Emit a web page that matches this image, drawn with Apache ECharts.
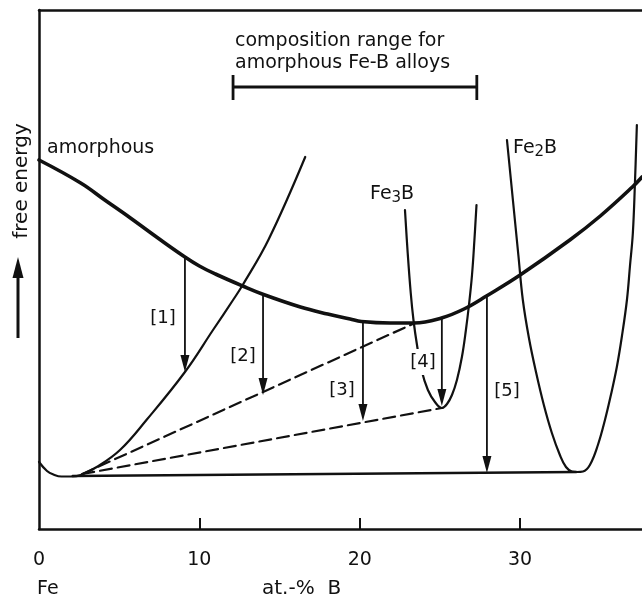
<!DOCTYPE html>
<html><head><meta charset="utf-8">
<script src="https://cdn.jsdelivr.net/npm/echarts@6/dist/echarts.min.js"></script>
<style>html,body{margin:0;padding:0;background:#fff}#c{width:642px;height:602px}</style>
</head><body><div id="c"></div>
<script>
// ---- data (x: at.-% B, y: free energy, arbitrary units) ----
const xTickLabels = [0, 10, 20, 30];
const xTickMarks = [10, 20, 30];

const amorphousX = [0, 2.6, 4.1, 5.7, 7.5, 9.1, 10.0, 11.0, 12.7, 14.0, 16.3, 18.0, 19.4, 20.1, 21.9, 23.4, 25.1, 26.5, 27.9, 30.0, 33.1, 35.0, 37.0, 37.6];
const amorphousY = [36.9, 34.6, 32.9, 31.1, 29.0, 27.2, 26.3, 25.5, 24.3, 23.45, 22.2, 21.5, 21.0, 20.75, 20.6, 20.6, 21.1, 22.0, 23.3, 25.4, 28.9, 31.3, 34.2, 35.2];

const alphaFeX = [0, 0.5, 0.9, 1.4, 2.1, 2.6, 3.6, 5.05, 6.7, 9.1, 10.85, 12.1, 12.7, 14.3, 16.6];
const alphaFeY = [6.7, 5.8, 5.45, 5.25, 5.25, 5.4, 6.2, 7.9, 10.9, 15.7, 19.9, 22.9, 24.4, 28.9, 37.2];

const fe3bX = [22.82, 22.99, 23.18, 23.35, 23.57, 23.85, 24.25, 24.69, 25.12, 25.44, 25.75, 26.06, 26.37, 26.62, 26.81, 27.0, 27.15, 27.28];
const fe3bY = [31.9, 27.6, 23.6, 20.9, 18.4, 15.9, 13.9, 12.7, 12.1, 12.5, 13.4, 14.9, 17.2, 19.9, 22.4, 25.4, 28.9, 32.4];

const fe2bX = [29.18, 29.55, 29.89, 30.17, 30.55, 30.99, 31.48, 31.98, 32.48, 32.86, 33.23, 33.54, 33.92, 34.35, 34.85, 35.29, 35.66, 36.03, 36.35, 36.66, 36.85, 37.03, 37.16, 37.28];
const fe2bY = [38.9, 32.9, 27.4, 22.9, 19.1, 15.7, 12.4, 9.6, 7.4, 6.2, 5.75, 5.7, 5.75, 6.4, 8.4, 10.9, 13.4, 16.2, 19.3, 22.9, 26.3, 29.6, 34.6, 40.4];

const tangentX = [2.1, 33.5];
const tangentY = [5.3, 5.7];

const dashAX = [2.7, 23.44];
const dashAY = [5.5, 20.6];
const dashBX = [2.7, 25.12];
const dashBY = [5.5, 12.1];

const arrowX = [9.10, 13.97, 20.2, 25.12, 27.93];
const arrowTop = [27.2, 23.45, 20.7, 21.0, 23.3];
const arrowBottom = [15.7, 13.4, 10.8, 12.3, 5.6];

const compRange = [12.1, 27.3];
const compLevel = 44.2;

// ---- helpers ----
const zip = (xs, ys) => xs.map((x, i) => [x, ys[i]]);
const FONT = 'DejaVu Sans';
const INK = '#111';

const chart = echarts.init(document.getElementById('c'), null, {renderer: 'canvas'});

function lineSeries(xs, ys, width, dashed, smooth) {
  return {
    type: 'line', data: zip(xs, ys), showSymbol: false, symbol: 'none',
    smooth: smooth || false,
    lineStyle: {color: INK, width: width, type: dashed ? [12, 6] : 'solid', cap: 'round', join: 'round'},
    silent: true, animation: false, z: 3
  };
}

function txt(x, y, text, opts) {
  return Object.assign({
    type: 'text', x: x, y: y, z: 100,
    style: Object.assign({text: text, fill: INK, font: '19px ' + FONT, align: 'center', verticalAlign: 'middle'}, (opts && opts.style) || {})
  }, (opts && opts.el) || {});
}

const option = {
  backgroundColor: '#fff',
  animation: false,
  grid: {left: 39, right: 0, top: 10, bottom: 73, outerBoundsMode: 'none', containLabel: false},
  xAxis: [{
    type: 'value', min: 0, max: 37.6, interval: 10,
    axisLine: {show: true, lineStyle: {color: INK, width: 2.5}},
    axisTick: {show: true, inside: true, length: 11, customValues: xTickMarks, lineStyle: {color: INK, width: 2}},
    axisLabel: {show: true, customValues: xTickLabels, margin: 22, color: INK, fontSize: 19, fontFamily: FONT,
      formatter: v => (xTickLabels.indexOf(v) >= 0 ? String(v) : '')},
    splitLine: {show: false}
  }, {
    type: 'value', position: 'top', min: 0, max: 37.6,
    axisLine: {show: true, lineStyle: {color: INK, width: 2.5}},
    axisTick: {show: false}, axisLabel: {show: false}, splitLine: {show: false}
  }],
  yAxis: {
    type: 'value', min: 0, max: 51.9,
    axisLine: {show: true, lineStyle: {color: INK, width: 2.5}},
    axisTick: {show: false}, axisLabel: {show: false}, splitLine: {show: false}
  },
  series: [
    lineSeries(amorphousX, amorphousY, 3.6, false, 0.4),
    lineSeries(alphaFeX, alphaFeY, 2.2, false, 0.4),
    lineSeries(fe3bX, fe3bY, 2.2, false, 0.4),
    lineSeries(fe2bX, fe2bY, 2.2, false, 0.4),
    lineSeries(tangentX, tangentY, 2.4, false),
    lineSeries(dashAX, dashAY, 2.2, true),
    lineSeries(dashBX, dashBY, 2.2, true),
    {
      type: 'custom', silent: true, animation: false, z: 4,
      data: arrowX.map((x, i) => [x, arrowTop[i], arrowBottom[i]]),
      renderItem: function (params, api) {
        const p1 = api.coord([api.value(0), api.value(1)]);
        const p2 = api.coord([api.value(0), api.value(2)]);
        const hl = 17, hw = 4.5;
        return {type: 'group', children: [
          {type: 'line', shape: {x1: p1[0], y1: p1[1], x2: p2[0], y2: p2[1] - hl + 2}, style: {stroke: INK, lineWidth: 1.8}},
          {type: 'polygon', shape: {points: [[p2[0] - hw, p2[1] - hl], [p2[0] + hw, p2[1] - hl], [p2[0], p2[1]]]}, style: {fill: INK}}
        ]};
      }
    },
    {
      type: 'custom', silent: true, animation: false, z: 4,
      data: [[compRange[0], compRange[1], compLevel]],
      renderItem: function (params, api) {
        const a = api.coord([api.value(0), api.value(2)]);
        const b = api.coord([api.value(1), api.value(2)]);
        const st = {stroke: INK, lineWidth: 2.8};
        return {type: 'group', children: [
          {type: 'line', shape: {x1: a[0], y1: a[1], x2: b[0], y2: b[1]}, style: st},
          {type: 'line', shape: {x1: a[0], y1: a[1] - 12, x2: a[0], y2: a[1] + 13}, style: st},
          {type: 'line', shape: {x1: b[0], y1: b[1] - 12, x2: b[0], y2: b[1] + 13}, style: st}
        ]};
      }
    }
  ],
  graphic: [
    txt(235, 41, 'composition range for', {style: {align: 'left'}}),
    txt(235, 63, 'amorphous Fe-B alloys', {style: {align: 'left'}}),
    txt(47, 148, 'amorphous', {style: {align: 'left'}}),
    {
      type: 'text', x: 370, y: 194, z: 100,
      style: {text: '{a|Fe}{s|3}{a|B}', align: 'left', verticalAlign: 'middle', fill: INK,
        rich: {a: {fontSize: 19, fontFamily: FONT, fill: INK}, s: {fontSize: 15, fontFamily: FONT, fill: INK, padding: [9, 0, 0, 0]}}}
    },
    {
      type: 'text', x: 513, y: 148, z: 100,
      style: {text: '{a|Fe}{s|2}{a|B}', align: 'left', verticalAlign: 'middle', fill: INK,
        rich: {a: {fontSize: 19, fontFamily: FONT, fill: INK}, s: {fontSize: 15, fontFamily: FONT, fill: INK, padding: [9, 0, 0, 0]}}}
    },
    txt(163, 318, '[1]', {style: {font: '18px ' + FONT}}),
    txt(243, 356, '[2]', {style: {font: '18px ' + FONT}}),
    txt(342, 390, '[3]', {style: {font: '18px ' + FONT}}),
    txt(423, 362, '[4]', {style: {font: '18px ' + FONT, backgroundColor: '#fff', padding: [4, 1, 4, 1]}}),
    txt(507, 391, '[5]', {style: {font: '18px ' + FONT}}),
    txt(37, 589, 'Fe', {style: {align: 'left'}}),
    txt(262, 589, 'at.-%  B', {style: {align: 'left', font: '20px ' + FONT}}),
    txt(22, 181, 'free energy', {style: {font: '20px ' + FONT}, el: {rotation: Math.PI / 2}}),
    {type: 'line', z: 100, shape: {x1: 18, y1: 338, x2: 18, y2: 272}, style: {stroke: INK, lineWidth: 3}},
    {type: 'polygon', z: 100, shape: {points: [[12.5, 278], [23.5, 278], [18, 257]]}, style: {fill: INK}}
  ]
};
chart.setOption(option);
</script>
</body></html>
